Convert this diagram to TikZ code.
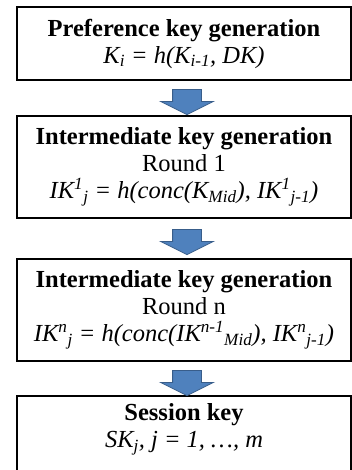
\documentclass[tikz,border=0pt]{standalone}
\usepackage{fontspec}
\setmainfont{Liberation Serif}
\usetikzlibrary{shapes.arrows}
\definecolor{arrowblue}{RGB}{79,129,189}
\definecolor{arrowedge}{RGB}{56,93,138}

\begin{document}
\begin{tikzpicture}[x=1pt, y=-1pt,
  every node/.style={font=\fontsize{24.5}{27}\selectfont},
  frame/.style={draw, line width=1.6pt},
  keybox/.style={frame, rectangle, minimum width=334pt, align=center, inner sep=0pt},
  downarrow/.style={single arrow, shape border rotate=270, draw=arrowedge, fill=arrowblue,
    line width=0.8pt, inner sep=0pt, text width=28pt, minimum height=25pt,
    single arrow head extend=12pt, single arrow tip angle=127},
]
  \useasboundingbox (0,0) rectangle (352,470);
  \clip (0,0) rectangle (352,470);

  \node[keybox, minimum height=73pt] (pref) at (184,43.5)
    {\textbf{Preference key generation}\\
     \textit{K\textsubscript{i} = h(K\textsubscript{i-1}, DK)}};
  \node[keybox, minimum height=102pt] (inter1) at (184,167)
    {\textbf{Intermediate key generation}\\
     Round 1\\
     \textit{IK\textsuperscript{1}\textsubscript{j} = h(conc(K\textsubscript{Mid}), IK\textsuperscript{1}\textsubscript{j-1})}};
  \node[keybox, minimum height=102pt] (intern) at (184,310)
    {\textbf{Intermediate key generation}\\
     Round n\\
     \textit{IK\textsuperscript{n}\textsubscript{j} = h(conc(IK\textsuperscript{n-1}\textsubscript{Mid}), IK\textsuperscript{n}\textsubscript{j-1})}};
  \node[align=center] (sess) at (184,429)
    {\textbf{Session key}\\
     \textit{SK\textsubscript{j}, j = 1, \ldots, m}};
  \draw[frame] (17,396) rectangle (351,500);

  \node[downarrow] (arr1) at (187,98.5) {};
  \node[downarrow] (arr2) at (187,238.5) {};
  \node[downarrow] (arr3) at (187,379.5) {};
\end{tikzpicture}
\end{document}
